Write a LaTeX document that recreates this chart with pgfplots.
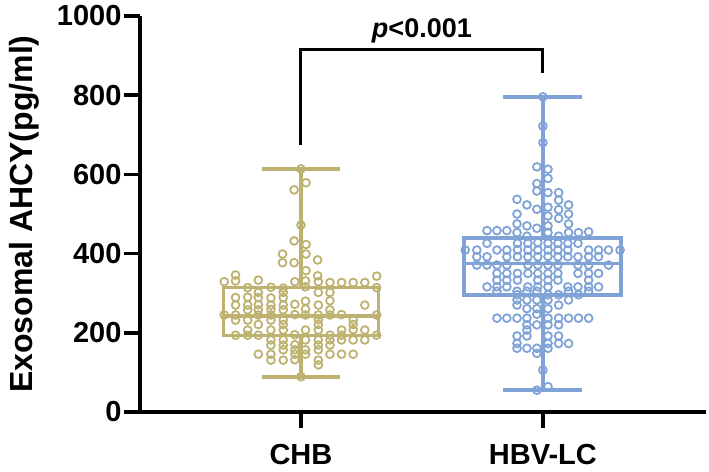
\documentclass[border=0pt]{standalone}
\usepackage{fontspec}
\setmainfont{Liberation Sans}
\usepackage{pgfplots}
\usepackage{pgfplotstable}
\pgfplotsset{compat=1.18}
\definecolor{chb}{RGB}{190,178,112}
\definecolor{hbv}{RGB}{127,163,214}
% CHB: horizontal jitter offset (x) and value (y)
\pgfplotstableread{
x y
0 614
0.021 579
-0.028 561
0 472
-0.028 432
0.021 423
-0.076 399
0.021 399
-0.076 377
-0.028 377
0.069 384
0.021 357
-0.270 346
0.069 344
0.313 343
-0.317 329
-0.270 331
-0.176 333
-0.025 329
0.019 331
0.072 329
0.120 327
0.168 327
0.216 327
0.264 327
-0.220 314
-0.124 315
-0.073 313
0.019 316
0.313 314
-0.176 302
-0.073 302
0.072 302
0.120 302
-0.270 289
-0.220 290
-0.176 289
-0.124 288
-0.073 289
0.019 280
0.120 281
-0.270 270
-0.220 270
-0.176 271
-0.124 270
-0.073 270
-0.025 272
0.072 270
0.264 270
-0.220 258
-0.176 258
-0.124 259
-0.073 258
0.019 260
0.120 258
-0.317 245
-0.270 245
-0.176 245
-0.124 245
-0.025 246
0.019 245
0.072 245
0.120 245
0.168 246
0.313 245
-0.270 232
-0.220 232
-0.124 232
-0.073 232
0.072 233
0.216 232
-0.176 221
-0.073 221
0.072 221
0.216 221
-0.220 207
-0.124 207
-0.073 207
0.019 207
0.072 207
0.168 207
0.216 208
0.264 207
-0.270 194
-0.220 194
-0.176 194
-0.025 195
0.120 194
0.168 194
0.313 194
-0.124 182
-0.073 182
0.019 182
0.072 182
0.120 182
0.168 182
0.216 182
0.264 182
-0.124 169
-0.073 169
-0.025 170
0.072 169
0.120 169
-0.073 157
-0.025 157
0.019 157
0.072 157
-0.176 146
-0.124 146
-0.025 146
0.019 146
0.120 146
0.168 146
0.216 146
-0.124 131
-0.073 131
-0.025 132
0.072 131
0.072 119
0 89
}\chbdata
% HBV-LC: horizontal jitter offset (x) and value (y)
\pgfplotstableread{
x y
0 796
0 722
0 680
-0.025 619
0.021 613
0.021 590
-0.025 577
-0.025 558
0.021 554
0.065 554
-0.107 537
0.065 535
-0.066 523
0.106 523
0.021 517
-0.025 512
0.065 511
-0.107 500
0.106 500
0.021 495
0.065 489
-0.107 475
0.106 475
0.021 470
-0.066 470
-0.025 464
-0.231 458
-0.190 458
-0.149 458
-0.107 453
0.021 453
0.106 453
0.147 453
0.189 455
0.065 444
-0.066 444
-0.231 426
-0.105 426
-0.062 426
-0.021 428
0.021 426
0.062 426
0.103 426
0.145 426
-0.321 409
-0.273 409
-0.190 409
-0.149 409
-0.105 410
-0.062 409
-0.021 409
0.021 409
0.062 409
0.103 409
0.189 409
0.230 409
0.271 409
0.319 409
-0.273 392
-0.231 392
-0.149 392
-0.105 392
-0.062 392
-0.021 392
0.021 393
0.062 392
0.103 392
0.145 392
0.189 392
0.230 392
-0.273 371
-0.231 371
-0.190 371
-0.149 371
-0.062 371
-0.021 371
0.021 371
0.062 371
0.145 371
0.189 371
0.271 371
-0.190 350
-0.149 350
-0.105 350
-0.062 350
-0.021 350
0.021 350
0.062 350
0.145 350
0.189 350
0.230 350
-0.190 333
-0.149 333
-0.105 333
-0.021 333
0.021 333
0.062 333
0.189 333
-0.231 316
-0.190 316
-0.149 316
-0.062 316
-0.021 316
0.021 316
0.103 316
0.145 316
0.189 316
0.230 316
-0.190 305
-0.107 305
-0.066 305
-0.025 305
0.106 305
0.189 305
-0.107 296
0.021 296
0.065 296
0.147 296
-0.107 283
-0.066 283
-0.025 283
0.021 283
0.106 283
-0.107 270
0.065 270
-0.066 261
-0.025 261
0.021 261
-0.025 247
-0.190 237
-0.149 237
-0.107 237
-0.066 237
0.021 237
0.065 237
0.106 237
0.147 237
0.189 237
-0.066 220
-0.025 220
0.021 220
0.065 220
-0.066 207
-0.107 192
-0.066 192
0.021 192
0.065 192
-0.107 173
0.021 173
0.065 173
0.106 173
-0.107 161
-0.066 161
-0.025 161
0.021 161
-0.025 148
0 106
0.021 64
-0.025 55
}\hbvdata
\begin{document}
\begin{tikzpicture}
\begin{axis}[
  name=ax,
  scale only axis, width=566pt, height=396pt,
  xmin=-0.665, xmax=1.674, ymin=0, ymax=1000,
  axis x line*=bottom, axis y line*=left,
  xtick={0,1}, xticklabels={CHB,HBV-LC},
  ytick={0,200,400,600,800,1000},
  tick align=outside, major tick length=16pt,
  axis line style={line width=3.5pt, black},
  tick style={line width=3.5pt, black},
  /pgf/number format/assume math mode=true,
  /pgf/number format/1000 sep={},
  ticklabel style={font=\fontsize{29}{29}\selectfont\bfseries},
  xticklabel style={yshift=-13pt},
  yticklabel style={xshift=1pt},
  ylabel={Exosomal AHCY(pg/ml)},
  ylabel style={font=\fontsize{32}{32}\selectfont\bfseries, at={(axis description cs:-0.205,0.5)}, anchor=center},
  clip=false,
]
\addplot[only marks, mark=o, mark size=3.9pt, color=chb, line width=1.8pt] table[x=x,y=y] {\chbdata};
\addplot[only marks, mark=o, mark size=3.9pt, color=hbv, line width=1.8pt] table[x expr=\thisrow{x}+1,y=y] {\hbvdata};
% CHB box: Q1=193, median=243, Q3=315, whiskers 89..614
\addplot[draw=chb, line width=3.5pt, mark=none] coordinates {(-0.32,193) (0.32,193) (0.32,315) (-0.32,315)} --cycle;
\addplot[draw=chb, line width=3.5pt, mark=none] coordinates {(-0.32,243) (0.32,243)};
\addplot[draw=chb, line width=3.5pt, mark=none] coordinates {(0,315) (0,614)};
\addplot[draw=chb, line width=3.5pt, mark=none] coordinates {(0,193) (0,89)};
\addplot[draw=chb, line width=3.5pt, mark=none] coordinates {(-0.16,614) (0.16,614)};
\addplot[draw=chb, line width=3.5pt, mark=none] coordinates {(-0.16,89) (0.16,89)};
% HBV-LC box: Q1=295, median=375, Q3=439, whiskers 55..796
\addplot[draw=hbv, line width=3.5pt, mark=none] coordinates {(0.673,295) (1.322,295) (1.322,439) (0.673,439)} --cycle;
\addplot[draw=hbv, line width=3.5pt, mark=none] coordinates {(0.673,375) (1.322,375)};
\addplot[draw=hbv, line width=3.5pt, mark=none] coordinates {(1,439) (1,796)};
\addplot[draw=hbv, line width=3.5pt, mark=none] coordinates {(1,295) (1,55)};
\addplot[draw=hbv, line width=3.5pt, mark=none] coordinates {(0.837,796) (1.163,796)};
\addplot[draw=hbv, line width=3.5pt, mark=none] coordinates {(0.837,55) (1.163,55)};
\draw[line width=3pt, black] (axis cs:0,675) -- (axis cs:0,915) -- (axis cs:1,915) -- (axis cs:1,857);
\node at (axis cs:0.5,963) {\fontsize{27}{27}\selectfont\bfseries\textit{p}<0.001};
\end{axis}
\pgfresetboundingbox
\useasboundingbox ([shift={(-140pt,-59pt)}]ax.south west) rectangle ([shift={(3pt,16pt)}]ax.north east);
\end{tikzpicture}
\end{document}
